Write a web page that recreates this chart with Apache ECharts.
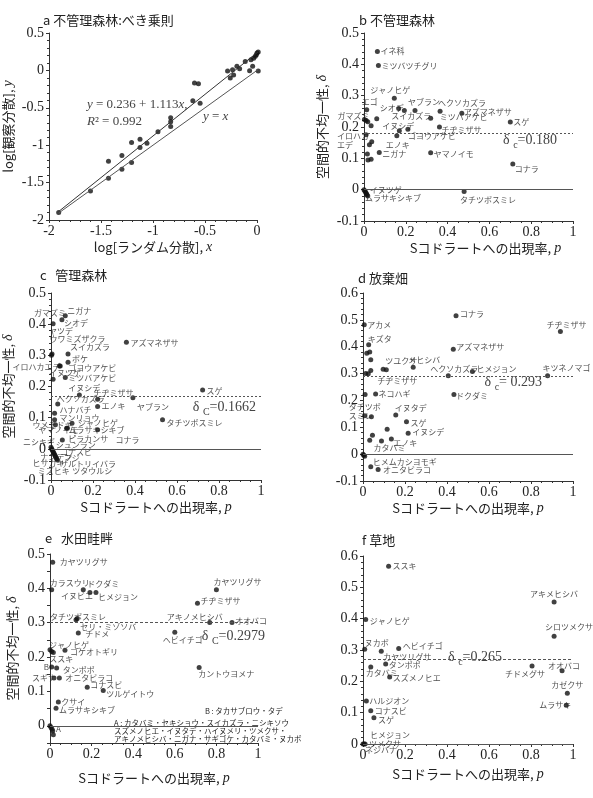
<!DOCTYPE html>
<html><head><meta charset="utf-8">
<script src="https://cdn.jsdelivr.net/npm/echarts@6/dist/echarts.min.js"></script>
<style>html,body{margin:0;padding:0;background:#fff}#c{width:593px;height:798px}</style>
</head><body><div id="c"></div><script>
// ---------- DATA ----------
// a: log random variance (x) vs log observed variance (y)
const aX = [-1.907,-1.601,-1.428,-1.428,-1.299,-1.299,-1.206,-1.206,-1.125,-1.125,-1.058,-0.952,-0.830,-0.830,-0.830,-0.617,-0.601,-0.563,-0.547,-0.283,-0.257,-0.235,-0.225,-0.193,-0.167,-0.113,-0.071,-0.058,-0.042,-0.032,-0.016,-0.006,0.0,0.012,0.012];
const aY = [-1.900,-1.611,-1.214,-1.442,-1.138,-1.321,-0.964,-1.232,-0.920,-1.031,-0.973,-0.821,-0.634,-0.688,-0.750,-0.406,-0.170,-0.179,-0.438,-0.009,-0.103,0.009,-0.063,0.054,0.022,0.120,-0.004,0.143,0.054,0.161,0.188,0.210,0.232,0.245,-0.009];
const regIntercept = 0.236, regSlope = 1.113, regR2 = 0.992;

// b: 不管理森林
const bX = [0.064,0.069,0.145,0.013,0.166,0.244,0.364,0.193,0.319,0.468,0.700,0.002,0.010,0.018,0.061,0.034,0.169,0.210,0.361,0.010,0.157,0.026,0.037,0.073,0.016,0.019,0.034,0.319,0.712,0.479,0.000,0.004,0.008,0.011,0.014,0.018];
const bY = [0.441,0.396,0.292,0.255,0.259,0.253,0.250,0.253,0.228,0.244,0.216,0.224,0.221,0.217,0.226,0.204,0.188,0.193,0.200,0.175,0.172,0.143,0.153,0.119,0.114,0.095,0.097,0.118,0.082,-0.006,0.000,-0.004,-0.008,-0.012,-0.016,-0.020];
const bNames = ['イネ科','ミツバツチグリ','ジャノヒゲ','エゴ','シオデ','ヤブラン','ヘクソカズラ','スイカズラ','ミツバアケビ','アズマネザサ','スゲ','ガマズミ','','','','','イヌシデ','ゴヨウアケビ','チヂミザサ','イロハカ\nエデ','エノキ','','','ニガナ','','','','ヤマノイモ','コナラ','タチツボスミレ','','','イヌツゲ','','ムラサキシキブ',''];

// c: 管理森林
const cX = [0.010,0.068,0.052,0.005,0.002,0.081,0.081,0.044,0.040,0.010,0.068,0.359,0.135,0.222,0.032,0.222,0.390,0.722,0.531,0.017,0.017,0.021,0.100,0.074,0.078,0.222,0.054,0.000,0.003,0.006,0.009,0.012,0.015,0.018,0.021,0.024,0.027,0.030];
const cY = [0.401,0.427,0.414,0.304,0.300,0.304,0.278,0.266,0.266,0.223,0.229,0.342,0.173,0.159,0.144,0.136,0.164,0.189,0.093,0.114,0.093,0.077,0.082,0.066,0.066,0.061,0.028,0.005,0.000,-0.004,-0.008,-0.012,-0.016,-0.020,-0.024,-0.028,-0.032,-0.036];
const cNames = ['ガマズミ','ニガナ','シオデ','ヤツデ','ウワミズザクラ','スイカズラ','ボケ','ゴヨウアケビ','イロハカエデ','イヌツゲ','ミツバアケビ','アズマネザサ','イヌシデ','チヂミザサ','ヘクソカズラ','エノキ','ヤブラン','スゲ','タチツボスミレ','ハナバチ','マンリョウ','ウメモドキ','ジャノヒゲ','ヤマノイモ','ムラサキシキブ','コナラ','ピラカンサ','ニシキギ','シュンラン','','コナスビ','','ナンテン','フジ','ヒサカキ','サルトリイバラ','ミズヒキ','ツタウルシ'];

// d: 放棄畑
const dX = [0.006,0.027,0.018,0.032,0.037,0.037,0.013,0.025,0.096,0.111,0.239,0.406,0.521,0.879,0.443,0.940,0.430,0.433,0.060,0.010,0.008,0.040,0.156,0.207,0.215,0.115,0.045,0.032,0.088,0.135,0.000,0.004,0.008,0.037,0.072];
const dY = [0.482,0.407,0.376,0.380,0.351,0.311,0.300,0.299,0.316,0.314,0.324,0.292,0.308,0.292,0.515,0.457,0.391,0.222,0.224,0.222,0.143,0.139,0.146,0.121,0.078,0.093,0.070,0.052,0.049,0.056,0.000,-0.004,-0.008,-0.047,-0.057];
const dNames = ['アカメ','キズタ','','','','','','','ツユクサ','チヂミザサ','メヒシバ','ヘクソカズラ','ヒメジョン','キツネノマゴ','コナラ','チヂミザサ','アズマネザサ','ドクダミ','ネコハギ','','タチツボ\nスミレ','','イヌタデ','スゲ','イヌシデ','','','','カタバミ','エノキ','','','','ヒメムカシヨモギ','オニタビラコ'];

// e: 水田畦畔
const eX = [0.013,0.008,0.160,0.192,0.221,0.125,0.131,0.136,0.000,0.008,0.016,0.072,0.008,0.032,0.019,0.045,0.179,0.256,0.040,0.029,0.000,0.005,0.010,0.013,0.016,0.800,0.709,0.768,0.875,0.600,0.717];
const eY = [0.476,0.396,0.396,0.388,0.388,0.309,0.312,0.270,0.221,0.216,0.213,0.220,0.171,0.168,0.139,0.139,0.112,0.103,0.069,0.051,0.000,-0.005,-0.010,-0.015,-0.026,0.396,0.357,0.301,0.301,0.272,0.170];
const eNames = ['カヤツリグサ','カラスウリ','ドクダミ','イヌビエ','ヒメジョン','タチツボスミレ','セリ・ミゾソバ','チドメ','ジャノヒゲ','','ススキ','コケオトギリ','B','タンポポ','スギナ','オニタビラコ','コナスビ','ツルゲイトウ','クサイ','ムラサキシキブ','','','A','','','カヤツリグサ','チヂミザサ','アキノメヒシバ','オオバコ','ヘビイチゴ','カントウヨメナ'];
const eNoteA = ['A : カタバミ・セキショウ・スイカズラ・ニシキソウ','スズメノヒエ・イヌタデ・ハイヌメリ・ツメクサ・','アキノメヒシバ・ニガナ・サギゴケ・カタバミ・ヌカボ'];
const eNoteB = 'B : タカサブロウ・タデ';

// f: 草地
const fX = [0.122,0.013,0.008,0.087,0.170,0.108,0.037,0.127,0.016,0.037,0.052,0.005,0.010,0.000,0.910,0.910,0.805,0.948,0.973,0.968];
const fY = [0.567,0.397,0.302,0.296,0.305,0.255,0.246,0.214,0.137,0.106,0.084,0.000,0.000,0.000,0.453,0.344,0.249,0.234,0.162,0.124];
const fNames = ['ススキ','ジャノヒゲ','ヌカボ','カヤツリグサ','ヘビイチゴ','タンポポ','カタバミ','スズメノヒエ','ハルジオン','コナスビ','スゲ','ヒメジョン','ツメクサ','ネジバナ','アキメヒシバ','シロツメクサ','チドメグサ','オオバコ','カゼクサ','ムラサキ'];

// critical delta values
const deltaC = [0.180, 0.1662, 0.293, 0.2979, 0.265];
const deltaText = ['=0.180', '=0.1662', '= 0.293', '=0.2979', '=0.265'];
const deltaSub = ['c', 'C', 'c', 'C', 'c'];

// ---------- LAYOUT (label offsets in px, text left-middle relative to point) ----------
const bLabelAt = [[3,-1],[3,0],[-24,-8],[-5,-8],[-19,-1],[-7,-8],[-2,-8],[-13,6],[9,-1],[2,-1],[3,0],[-27,-4],null,null,null,null,[-17,-5],[0,7],[2,3],[-29,6],[-11,9],null,null,[3,2],null,null,null,[3,1],[2,5],[-4,8],null,null,[4,-2],null,[-2,3],null];
const cLabelAt = [[-19,-11],[2,-5],[2,3],[-3,-23],[-2,-16],[2,-7],[4,-3],[8,2],[-47,1],[-4,-6],[3,0],[4,1],[-11,-7],[-4,-6],[-1,-5],[4,0],[4,9],[4,1],[4,3],[5,-3],[5,-2],[-23,0],[6,0],[-28,2],[1,2],[18,10],[6,-1],[-28,-5],[4,-4],null,[7,1],null,[-14,3],[9,3],[-23,7],[4,6],[-19,12],[15,11]];
const dLabelAt = [[3,0],[-1,-6],null,null,null,null,null,null,[2,-8],[-9,11],[-5,-7],[-18,-7],[4,-2],[-5,-8],[4,-2],[-14,-6],[3,-2],[2,1],[3,0],null,[-16,-4],null,[-1,-7],[4,1],[4,-1],null,null,null,[-8,7],[2,4],null,null,null,[2,-5],[5,1]];
const eLabelAt = [[7,0],[-2,-7],[4,-6],[-29,3],[2,4],[-26,-3],[3,8],[7,1],[-1,-5],null,[-4,6],[5,2],[-8,0],[6,2],[-22,0],[6,0],[3,-2],[3,4],[3,0],[3,2],null,null,[4,0],null,null,[-3,-8],[3,-2],[-43,-5],[3,-1],[-12,8],[-1,7]];
const fLabelAt = [[4,0],[4,1],[0,-6],[2,6],[4,-2],[3,1],[-5,6],[3,1],[3,0],[4,0],[4,2],[6,-9],[4,0],[2,6],[-24,-8],[-9,-9],[-27,8],[-14,-5],[-16,-8],[-27,0]];

const JP = '"Noto Sans CJK JP", "Noto Sans", sans-serif';
const SERIF = '"Liberation Serif", "DejaVu Serif", serif';
const INK = '#222';

const grids = [
  {left:49, top:33, width:208, height:187},
  {left:364, top:33, width:209, height:188},
  {left:51, top:293, width:210, height:187},
  {left:363, top:293, width:210, height:188},
  {left:50, top:554, width:208, height:189},
  {left:363, top:556, width:210, height:188}
];

const italic = {fontFamily: SERIF, fontStyle:'italic', fontSize:14, color: INK};

function xAxisOf(gi, min, max, interval, name, gap, pad, minorN) {
  return {
    type:'value', gridIndex:gi, min, max, interval,
    name, nameLocation:'middle', nameGap:gap,
    nameTextStyle:{fontFamily:JP, fontSize:13, color:INK, padding:pad||0, rich:{i:italic}},
    axisLine:{show:true, onZero:false, lineStyle:{color:'#333', width:1}},
    axisTick:{show:true, length:3, lineStyle:{color:'#333'}},
    minorTick:{show:true, splitNumber:minorN||4, length:2, lineStyle:{color:'#333'}},
    splitLine:{show:false},
    axisLabel:{fontFamily:SERIF, fontSize:14, color:INK, margin:4}
  };
}
function yAxisOf(gi, min, max, interval, name, gap, minorN, fmt) {
  const ax = {
    type:'value', gridIndex:gi, min, max, interval,
    axisLine:{show:true, onZero:false, lineStyle:{color:'#333', width:1}},
    axisTick:{show:true, length:3, lineStyle:{color:'#333'}},
    minorTick:{show: minorN>0, splitNumber:minorN||5, length:2, lineStyle:{color:'#333'}},
    splitLine:{show:false},
    axisLabel:{fontFamily:SERIF, fontSize:14, color:INK, margin:5}
  };
  if (fmt) ax.axisLabel.formatter = fmt;
  if (name) {
    ax.name = name; ax.nameLocation='middle'; ax.nameGap=gap; ax.nameRotate=90;
    ax.nameTextStyle = {fontFamily:JP, fontSize:13, color:INK, rich:{i:italic}};
  }
  return ax;
}

function scatterData(xs, ys, names, at) {
  return xs.map((x,i)=>{
    const d = {value:[x, ys[i]]};
    if (names[i] && at[i]) {
      d.label = {show:true, formatter:names[i], position:[at[i][0]+2.5, at[i][1]+2.5]};
    }
    return d;
  });
}
function scatterSeries(gi, xs, ys, names, at, dc, dashType) {
  const s = {
    type:'scatter', xAxisIndex:gi, yAxisIndex:gi, clip:false,
    symbolSize:5, itemStyle:{color:'#111'}, silent:true,
    label:{show:false, fontSize:8, fontFamily:JP, color:INK, align:'left', verticalAlign:'middle', lineHeight:9},
    data: scatterData(xs, ys, names, at)
  };
  if (dc !== undefined) {
    s.markLine = {silent:true, symbol:'none', label:{show:false}, animation:false,
      data:[
        {yAxis:0, lineStyle:{type:'solid', color:'#555', width:1}},
        {yAxis:dc, lineStyle:{type:dashType, color:'#555', width:1}}
      ]};
  }
  return s;
}

const yName = '空間的不均一性, {i|δ}';
const xName = 'Sコドラートへの出現率, {i|p}';

const xMinA = Math.min(...aX), xMaxA = Math.max(...aX);
const regLine = [[xMinA, regIntercept + regSlope*xMinA], [xMaxA, regIntercept + regSlope*xMaxA]];
const idLine = [[xMinA, xMinA], [xMaxA, xMaxA]];

const eFmt = v => (Math.abs(Math.round(v*100)) % 10 === 0) ? String(Math.round(v*10)/10) : '';

const titleSpec = [
  ['a 不管理森林:べき乗則', 43, 20],
  ['b 不管理森林', 359, 20],
  ['c   管理森林', 40, 275],
  ['d 放棄畑', 358, 278],
  ['e   水田畦畔', 45, 538],
  ['f 草地', 362, 540]
];

const chart = echarts.init(document.getElementById('c'), null, {renderer:'canvas'});
const option = {
  animation:false,
  backgroundColor:'#fff',
  grid: grids,
  xAxis: [
    xAxisOf(0, -2, 0, 0.5, 'log[ランダム分散], {i|x}', 20, 0, 5),
    xAxisOf(1, 0, 1, 0.2, xName, 20, [0,0,0,34], 4),
    xAxisOf(2, 0, 1, 0.2, xName, 20, 0, 4),
    xAxisOf(3, 0, 1, 0.2, xName, 20, 0, 4),
    xAxisOf(4, 0, 1, 0.2, xName, 28, 0, 4),
    xAxisOf(5, 0, 1, 0.2, xName, 23, 0, 4)
  ],
  yAxis: [
    yAxisOf(0, -2, 0.5, 0.5, 'log[観察分散], {i|y}', 34, 5),
    yAxisOf(1, -0.1, 0.5, 0.1, yName, 35, 5),
    yAxisOf(2, -0.1, 0.5, 0.1, yName, 36, 5),
    yAxisOf(3, -0.1, 0.6, 0.1, null, 0, 5),
    yAxisOf(4, -0.05, 0.5, 0.05, yName, 31, 0, eFmt),
    yAxisOf(5, 0, 0.6, 0.1, null, 0, 5)
  ],
  series: [
    {type:'line', xAxisIndex:0, yAxisIndex:0, data:regLine, symbol:'none', silent:true, lineStyle:{color:'#333', width:1}},
    {type:'line', xAxisIndex:0, yAxisIndex:0, data:idLine, symbol:'none', silent:true, lineStyle:{color:'#555', width:1}},
    scatterSeries(0, aX, aY, [], []),
    scatterSeries(1, bX, bY, bNames, bLabelAt, deltaC[0], [2,2]),
    scatterSeries(2, cX, cY, cNames, cLabelAt, deltaC[1], [2,2]),
    scatterSeries(3, dX, dY, dNames, dLabelAt, deltaC[2], [2,2]),
    scatterSeries(4, eX, eY, eNames, eLabelAt, deltaC[3], [3,2]),
    scatterSeries(5, fX, fY, fNames, fLabelAt, deltaC[4], [3,2])
  ]
};
chart.setOption(option);

// ---------- annotations ----------
const g = [];
titleSpec.forEach(t => g.push({type:'text', silent:true, style:{text:t[0], x:t[1], y:t[2], font:'13px ' + JP, fill:INK, verticalAlign:'middle'}}));

// regression text
g.push({type:'text', silent:true, style:{text:'{i|y} = ' + regIntercept.toFixed(3) + ' + ' + regSlope.toFixed(3) + '{i|x},', x:87, y:105, verticalAlign:'middle',
  font:'13px ' + SERIF, fill:'#444', rich:{i:{fontFamily:SERIF, fontStyle:'italic', fontSize:13, fill:'#444'}}}});
g.push({type:'text', silent:true, style:{text:'{i|R}² = ' + regR2.toFixed(3), x:87, y:122, verticalAlign:'middle',
  font:'13px ' + SERIF, fill:'#444', rich:{i:{fontFamily:SERIF, fontStyle:'italic', fontSize:13, fill:'#444'}}}});
g.push({type:'text', silent:true, style:{text:'{i|y} = {i|x}', x:203, y:117, verticalAlign:'middle',
  font:'13px ' + SERIF, fill:'#444', rich:{i:{fontFamily:SERIF, fontStyle:'italic', fontSize:13, fill:'#444'}}}});

// delta labels (anchored at the right end of each delta_c line)
const dlInset = [16, 5, 31, -7, 71];
const dlDy = [7, 10, 7, 13, -4];
for (let k = 0; k < 5; k++) {
  const p = chart.convertToPixel({gridIndex:k+1}, [1, deltaC[k]]);
  g.push({type:'text', silent:true, style:{
    text:'{d|δ }{s|' + deltaSub[k] + '}{d|' + deltaText[k] + '}',
    x:p[0]-dlInset[k], y:p[1]+dlDy[k], align:'right', verticalAlign:'middle',
    rich:{d:{fontFamily:SERIF, fontSize:14, fill:'#444'}, s:{fontFamily:SERIF, fontSize:10, fill:'#444', padding:[10,0,0,0]}}}});
}

// e footnotes
g.push({type:'text', silent:true, style:{text:eNoteB, x:205, y:711, font:'7.5px ' + JP, fill:INK, verticalAlign:'middle'}});
eNoteA.forEach((t,i) => g.push({type:'text', silent:true, style:{text:t, x:114, y:723 + i*8, font:'7.5px ' + JP, fill:INK, verticalAlign:'middle'}}));

chart.setOption({graphic:g});
</script></body></html>
